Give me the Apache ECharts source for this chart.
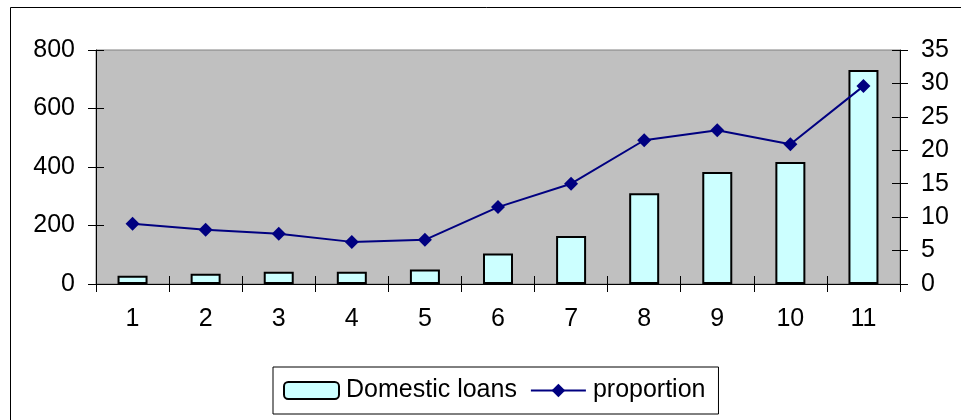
<!DOCTYPE html>
<html>
<head>
<meta charset="utf-8">
<script src="https://cdn.jsdelivr.net/npm/echarts@6/dist/echarts.min.js"></script>
<style>
  html, body { margin: 0; padding: 0; background: #fff; }
  #chart { width: 961px; height: 420px; }
</style>
</head>
<body>
<div id="chart"></div>
<script>
// Periods 1..11
const categories = ['1', '2', '3', '4', '5', '6', '7', '8', '9', '10', '11'];
// Domestic loans (left axis)
const domesticLoans = [28, 35, 42, 42, 50, 104, 164, 310, 383, 417, 732];
// Proportion (right axis)
const proportion = [9.0, 8.1, 7.5, 6.3, 6.6, 11.5, 15.0, 21.5, 23.0, 20.9, 29.6];

const leftMax = 800, leftStep = 200;
const rightMax = 35, rightStep = 5;

const FONT = "'Liberation Sans', Arial, sans-serif";
const labelStyle = { color: '#000', fontFamily: FONT, fontSize: 25 };
const axisLine = { show: true, lineStyle: { color: '#000', width: 1 } };
const tick = (inside) => ({ show: true, inside: inside, length: 8, lineStyle: { color: '#000', width: 1 } });

const chart = echarts.init(document.getElementById('chart'), null, { renderer: 'canvas' });

chart.setOption({
  animation: false,
  backgroundColor: '#fff',
  grid: {
    left: 96, top: 50, right: 61, bottom: 136,
    containLabel: false,
    show: true,
    backgroundColor: '#C0C0C0',
    borderColor: '#808080',
    borderWidth: 1
  },
  graphic: [{
    type: 'rect',
    shape: { x: 10.5, y: 7.5, width: 1000, height: 500 },
    style: { fill: 'none', stroke: '#000', lineWidth: 1 },
    silent: true,
    z: -10
  }],
  legend: {
    left: 273,
    top: 367,
    orient: 'horizontal',
    padding: [11, 13, 11, 10],
    itemWidth: 55,
    itemHeight: 17,
    itemGap: 13,
    borderColor: '#000',
    borderWidth: 1,
    backgroundColor: '#fff',
    textStyle: { color: '#000', fontFamily: FONT, fontSize: 25, padding: [0, 0, 0, 2] },
    data: ['Domestic loans', 'proportion']
  },
  xAxis: [{
    type: 'category',
    data: categories,
    boundaryGap: true,
    axisLine: axisLine,
    axisTick: tick(false),
    axisLabel: Object.assign({ margin: 23 }, labelStyle),
    splitLine: { show: false }
  }, {
    type: 'category',
    data: categories,
    position: 'bottom',
    boundaryGap: true,
    axisLine: { show: false },
    axisTick: tick(true),
    axisLabel: { show: false },
    splitLine: { show: false }
  }],
  yAxis: [{
    type: 'value',
    min: 0, max: leftMax, interval: leftStep,
    position: 'left',
    axisLine: axisLine,
    axisTick: tick(false),
    axisLabel: Object.assign({ margin: 21 }, labelStyle),
    splitLine: { show: false }
  }, {
    type: 'value',
    min: 0, max: rightMax, interval: rightStep,
    position: 'right',
    axisLine: axisLine,
    axisTick: tick(false),
    axisLabel: Object.assign({ margin: 21 }, labelStyle),
    splitLine: { show: false }
  }, {
    type: 'value',
    min: 0, max: leftMax, interval: leftStep,
    position: 'left',
    axisLine: { show: false },
    axisTick: tick(true),
    axisLabel: { show: false },
    splitLine: { show: false }
  }, {
    type: 'value',
    min: 0, max: rightMax, interval: rightStep,
    position: 'right',
    axisLine: { show: false },
    axisTick: tick(true),
    axisLabel: { show: false },
    splitLine: { show: false }
  }],
  series: [{
    name: 'Domestic loans',
    type: 'bar',
    xAxisIndex: 0,
    yAxisIndex: 0,
    data: domesticLoans,
    barWidth: 30,
    itemStyle: { color: '#CCFFFF', borderColor: '#000', borderWidth: 2 }
  }, {
    name: 'proportion',
    type: 'line',
    xAxisIndex: 0,
    yAxisIndex: 1,
    data: proportion,
    symbol: 'diamond',
    symbolSize: 14,
    lineStyle: { color: '#000080', width: 2 },
    itemStyle: { color: '#000080' },
    z: 5
  }]
});
</script>
</body>
</html>
